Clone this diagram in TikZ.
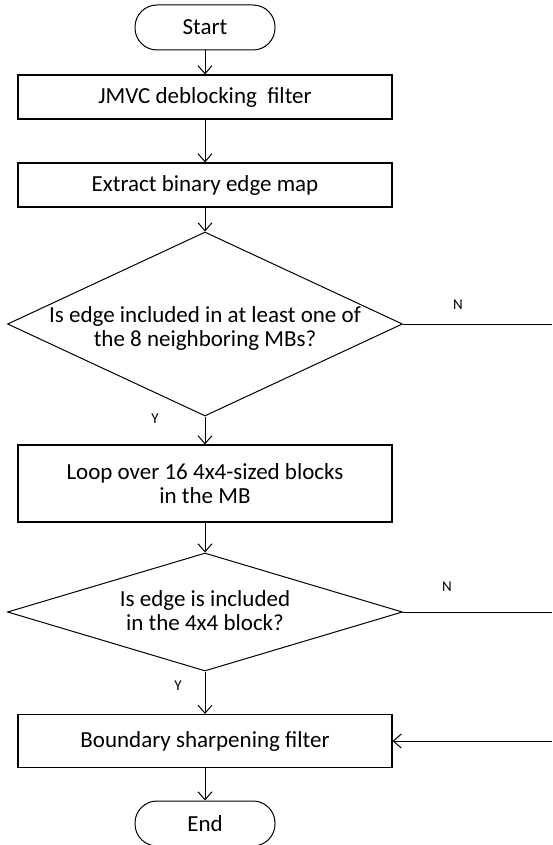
\documentclass[tikz,border=0pt]{standalone}
\usepackage{fontspec}
\setmainfont{Carlito}
\usetikzlibrary{shapes.geometric, arrows.meta}
\begin{document}
\begin{tikzpicture}[x=1pt,y=-1pt,
  every node/.style={font=\fontsize{23}{24}\selectfont},
  proc/.style={draw, line width=1.1pt, minimum width=374pt, inner sep=0pt, align=center},
  term/.style={draw, line width=1pt, rounded corners=22pt, minimum width=140pt, minimum height=45pt, inner sep=0pt},
  dec/.style={draw, diamond, line width=1pt, inner sep=0pt},
  dtext/.style={align=center, inner sep=0pt},
  lbl/.style={font=\fontsize{15}{16}\selectfont, inner sep=0pt},
  arr/.style={-{Straight Barb[length=8pt,width=14pt]}, line width=1pt},
  ln/.style={line width=1pt}]
\useasboundingbox (0,0) rectangle (552,845);

\node[term] (start) at (205,27.5) {Start};
\node[proc, minimum height=44pt] (b1) at (205,97) {JMVC deblocking\ \ filter};
\node[proc, minimum height=44pt] (b2) at (205,185) {Extract binary edge map};
\node[dec, minimum width=395pt, minimum height=184pt] (d1) at (205,324) {};
\node[dtext] (d1t) at (205,328) {Is edge included in at least one of\\the 8 neighboring MBs?};
\node[proc, minimum height=77pt] (b3) at (205,483.5) {Loop over 16 4x4-sized blocks\\in the MB};
\node[dec, minimum width=395pt, minimum height=118pt] (d2) at (205,612) {};
\node[dtext] (d2t) at (205,611) {Is edge is included\\in the 4x4 block?};
\node[proc, minimum height=53pt] (b4) at (205,741) {Boundary sharpening filter};
\node[term] (end) at (205,823.5) {End};

\coordinate (n1) at (552,324);
\coordinate (n2) at (552,612);
\coordinate (r4) at (552,741);

\draw[arr] (start) -- (b1);
\draw[arr] (b1) -- (b2);
\draw[arr] (b2) -- (d1.north);
\draw[arr] (d1.south) -- (b3);
\draw[arr] (b3) -- (d2.north);
\draw[arr] (d2.south) -- (b4);
\draw[arr] (b4) -- (end);
\draw[ln] (d1.east) -- (n1);
\draw[ln] (d2.east) -- (n2);
\draw[arr] (r4) -- (b4.east);

\node[lbl] (ln1) at (458,305) {N};
\node[lbl] (ly1) at (155,419) {Y};
\node[lbl] (ln2) at (447,587) {N};
\node[lbl] (ly2) at (178,686) {Y};
\end{tikzpicture}
\end{document}
